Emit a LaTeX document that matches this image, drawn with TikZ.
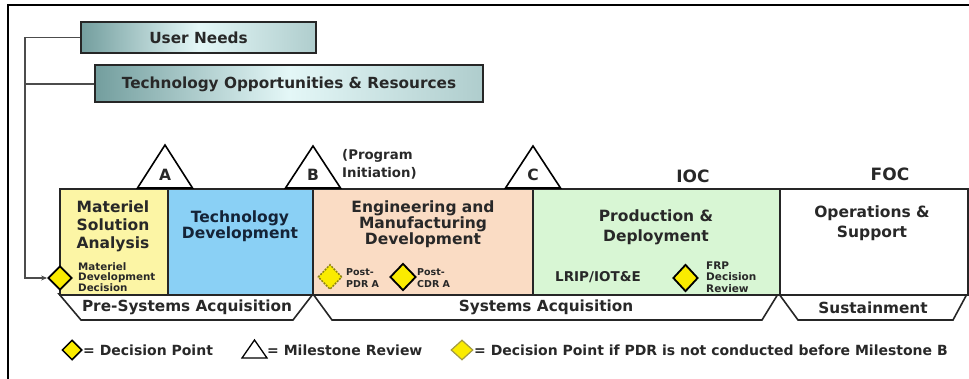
\documentclass[tikz,border=0pt]{standalone}
\usepackage{fontspec}
\setmainfont{DejaVu Sans}
\usetikzlibrary{shapes.geometric,arrows.meta}
\definecolor{msay}{RGB}{252,245,165}
\definecolor{tdb}{RGB}{138,208,245}
\definecolor{emdp}{RGB}{250,220,196}
\definecolor{pdg}{RGB}{216,246,212}
\definecolor{dpy}{RGB}{250,235,0}
\definecolor{txt}{RGB}{40,40,40}
\definecolor{tealdk}{RGB}{115,158,158}
\definecolor{teallt}{RGB}{228,247,247}
\definecolor{tealmd}{RGB}{175,205,205}
\definecolor{tdtxt}{RGB}{20,35,55}
\definecolor{pdrline}{RGB}{140,130,20}
\begin{document}
\begin{tikzpicture}[x=1pt,y=-1pt,
  topbox/.style={draw=black!85, line width=2pt, left color=tealdk, right color=tealmd, middle color=teallt, inner sep=0pt, font=\fontsize{15.3}{16}\selectfont\bfseries, text=txt},
  phase/.style={draw=black!85, line width=1.6pt, minimum height=106pt, inner sep=0pt, anchor=north west},
  head/.style={align=center, inner sep=0pt, text=txt},
  smalltext/.style={align=left, inner sep=0pt, anchor=west, text=txt},
  dp/.style={diamond, draw=black, line width=1.8pt, fill=dpy, inner sep=0pt, aspect=1},
  dpdash/.style={diamond, draw=pdrline, line width=1.5pt, dash pattern=on 2pt off 1.2pt, fill=dpy, inner sep=0pt, aspect=1},
  tri/.style={draw=black, line width=1.6pt, fill=white, line join=miter},
  trap/.style={draw=black!85, line width=1.6pt, fill=white},
  traptext/.style={inner sep=0pt, font=\fontsize{15.3}{16}\selectfont\bfseries, text=txt},
  legtext/.style={inner sep=0pt, anchor=west, font=\fontsize{14}{15}\selectfont\bfseries, text=txt},
  conn/.style={draw=black!70, line width=1.2pt}
]
\useasboundingbox (0,0) rectangle (969,379);
% frame
\draw[line width=2.6pt] (8,385) -- (8,5) -- (975,5);

% top boxes
\node[topbox, minimum width=235pt, minimum height=31pt] (un) at (198.5,37.5) {User Needs};
\node[topbox, minimum width=388pt, minimum height=37pt] (tor) at (289,84) {Technology Opportunities \& Resources};

% trapezoids
\draw[trap] (59,294) -- (313,294) -- (293,320) -- (81,320) -- cycle;
\draw[trap] (313,294) -- (778,294) -- (762,320) -- (332,320) -- cycle;
\draw[trap] (779,294) -- (967,294) -- (953,320) -- (798,320) -- cycle;
\node[traptext] (psa) at (187,307.5) {Pre-Systems Acquisition};
\node[traptext] (sa) at (546,307.5) {Systems Acquisition};
\node[traptext] (sus) at (873,307.5) {Sustainment};

% phase boxes
\node[phase, fill=msay, minimum width=108pt] (msa) at (59,188) {};
\node[phase, fill=tdb, minimum width=145pt] (td) at (167,188) {};
\node[phase, fill=emdp, minimum width=220pt] (emd) at (312,188) {};
\node[phase, fill=pdg, minimum width=247pt] (pd) at (532,188) {};
\node[phase, fill=white, minimum width=188pt] (os) at (779,188) {};

% milestone triangles
\draw[tri] (165,145) -- (192.5,188) -- (137.5,188) -- cycle;
\draw[tri] (313,146) -- (340.5,188) -- (285.5,188) -- cycle;
\draw[tri] (533,146) -- (560.5,188) -- (505.5,188) -- cycle;
\node[inner sep=0pt, font=\fontsize{15.5}{16}\selectfont\bfseries, text=txt] (mA) at (165,175) {A};
\node[inner sep=0pt, font=\fontsize{15.5}{16}\selectfont\bfseries, text=txt] (mB) at (313,175) {B};
\node[inner sep=0pt, font=\fontsize{15.5}{16}\selectfont\bfseries, text=txt] (mC) at (533,175) {C};
\node[smalltext, font=\fontsize{13.3}{18}\selectfont\bfseries] (pinit) at (342,164) {(Program\\Initiation)};
\node[inner sep=0pt, font=\fontsize{17}{18}\selectfont\bfseries, text=txt] (ioc) at (693,176) {IOC};
\node[inner sep=0pt, font=\fontsize{17}{18}\selectfont\bfseries, text=txt] (foc) at (890,174) {FOC};

% phase headings
\node[head, font=\fontsize{15.5}{18}\selectfont\bfseries] (msat) at (113,226) {Materiel\\Solution\\Analysis};
\node[head, font=\fontsize{15.5}{16}\selectfont\bfseries, text=tdtxt] (tdt) at (240,226) {Technology\\Development};
\node[head, font=\fontsize{15.5}{16}\selectfont\bfseries] (emdt) at (423,224) {Engineering and\\Manufacturing\\Development};
\node[head, font=\fontsize{15.5}{20}\selectfont\bfseries] (pdt) at (656,227) {Production \&\\Deployment};
\node[head, font=\fontsize{15.5}{20}\selectfont\bfseries] (ost) at (872,223) {Operations \&\\Support};

% decision points
\node[dp, minimum width=24pt, minimum height=24pt] (mdd) at (60,278) {};
\node[smalltext, font=\fontsize{10.3}{10.5}\selectfont\bfseries] (mddt) at (78,277) {Materiel\\Development\\Decision};
\node[dpdash, minimum width=24pt, minimum height=25pt] (pdr) at (330,277) {};
\node[smalltext, font=\fontsize{9.5}{12}\selectfont\bfseries] (pdrt) at (346,278.5) {Post-\\PDR A};
\node[dp, minimum width=26pt, minimum height=27pt] (cdr) at (403,277) {};
\node[smalltext, font=\fontsize{9.5}{12}\selectfont\bfseries] (cdrt) at (417,278.5) {Post-\\CDR A};
\node[inner sep=0pt, font=\fontsize{13.5}{14}\selectfont\bfseries, text=txt] (lrip) at (598,277) {LRIP/IOT\&E};
\node[dp, minimum width=25pt, minimum height=27pt] (frp) at (685.5,278) {};
\node[smalltext, font=\fontsize{10.5}{11.5}\selectfont\bfseries] (frpt) at (706,277) {FRP\\Decision\\Review};

% connectors
\coordinate (spine) at (25,0);
\draw[conn, -{Stealth[length=6pt,width=5pt]}] (un.west) -| (spine |- mdd.west) -- (mdd.west);
\draw[conn] (tor.west) -- (spine |- tor.west);

% legend
\node[dp, line width=1.5pt, minimum width=20pt, minimum height=20pt] (lg1) at (72,350) {};
\node[legtext] (lg1t) at (83,350) {= Decision Point};
\draw[tri, line width=1.3pt] (242,358) -- (254.5,340) -- (267,358) -- cycle;
\node[legtext] (lg2t) at (267,350) {= Milestone Review};
\node[diamond, draw=pdrline!80, line width=1.2pt, fill=dpy, inner sep=0pt, aspect=1, minimum width=22pt, minimum height=20pt] (lg3) at (462,350) {};
\node[legtext] (lg3t) at (474,350) {= Decision Point if PDR is not conducted before Milestone B};
\end{tikzpicture}
\end{document}
